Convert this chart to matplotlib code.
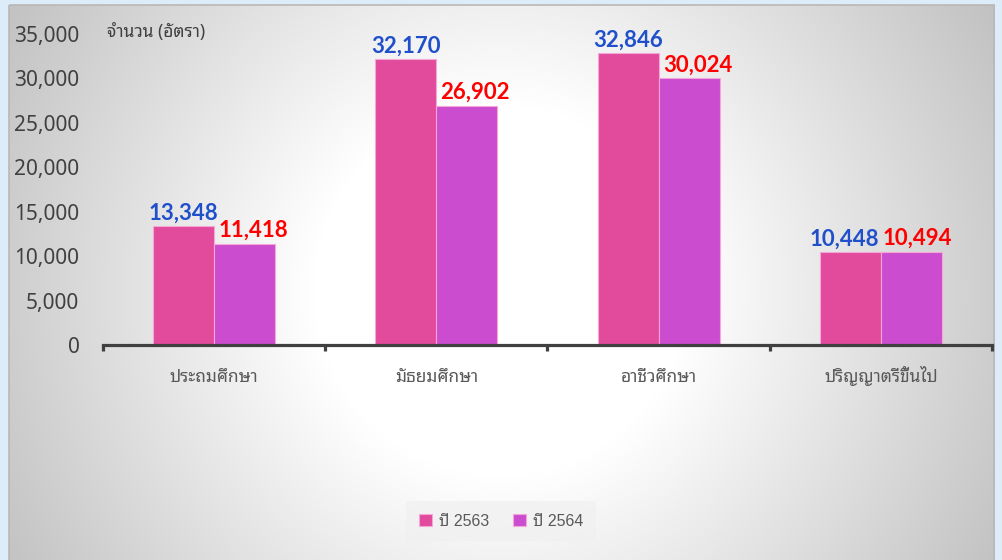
import numpy as np
import matplotlib
matplotlib.use("Agg")
import matplotlib.pyplot as plt
from matplotlib.patches import Rectangle
from matplotlib.ticker import FuncFormatter, FixedLocator

# data
categories = ['ประถมศึกษา', 'มัธยมศึกษา', 'อาชีวศึกษา', 'ปริญญาตรีขึ้นไป']
y2563 = [13348, 32170, 32846, 10448]
y2564 = [11418, 26902, 30024, 10494]
series_names = ['ปี 2563', 'ปี 2564']
yticks = [0, 5000, 10000, 15000, 20000, 25000, 30000, 35000]

plt.rcParams['font.family'] = ['Noto Sans', 'Noto Sans Thai Looped', 'DejaVu Sans']

W, H = 1003, 560
fig = plt.figure(figsize=(W / 100, H / 100), dpi=100)

# background: light blue frame + radial gray gradient panel
bg = fig.add_axes([0, 0, 1, 1])
bg.set_xlim(0, W)
bg.set_ylim(H, 0)
bg.axis('off')
yy, xx = np.mgrid[0:H, 0:W]
r = np.hypot(xx - 500, yy - 290)
g = np.clip(255 - 0.16 * np.clip(r - 186, 0, None), 185, 255) / 255.0
img = np.dstack([g, g, g])
blue = np.array([220, 236, 249]) / 255.0
mask = (xx < 9) | (xx > 994) | (yy < 5)
img[mask] = blue
bg.imshow(img, extent=[0, W, H, 0], aspect='auto', interpolation='bilinear')
bg.add_patch(Rectangle((9, 5), 985, 560, fill=False, edgecolor='#b8b8b8', lw=1.2))

# main chart
ax = fig.add_axes([103 / W, 0.384, 889 / W, 0.587])
ax.patch.set_alpha(0)
x = np.arange(len(categories))
w = 0.275
b1 = ax.bar(x - w / 2, y2563, w, color='#E24A9C', edgecolor='#F5A8D8', lw=0.8, label=series_names[0])
b2 = ax.bar(x + w / 2, y2564, w, color='#CB4CCF', edgecolor='#F5A8D8', lw=0.8, label=series_names[1])

# label nudges (points) so neighbouring labels don't collide, like Excel does
dx1 = [0, 0, 0, -4.5]
dx2 = [6, 6, 6, 4.5]
for bars, col, dxs in ((b1, '#1F4FCB', dx1), (b2, '#FF0000', dx2)):
    for rect, dx in zip(bars, dxs):
        v = rect.get_height()
        ax.annotate(f'{v:,.0f}', (rect.get_x() + rect.get_width() / 2, v),
                    xytext=(dx, 2), textcoords='offset points', ha='center', va='bottom',
                    fontsize=16, fontweight='bold', color=col,
                    family=['Lato', 'DejaVu Sans'])

ax.set_xlim(-0.5, 3.5)
ax.set_ylim(0, 37000)
for s in ('top', 'right', 'left'):
    ax.spines[s].set_visible(False)
ax.spines['bottom'].set_color('#404040')
ax.spines['bottom'].set_linewidth(2.3)

ax.set_yticks(yticks)
ax.yaxis.set_major_formatter(FuncFormatter(lambda v, p: f'{v:,.0f}'))
ax.tick_params(axis='y', length=0, pad=17, labelsize=15, labelcolor='#404040')

ax.xaxis.set_major_locator(FixedLocator(np.arange(-0.5, 4, 1)))
ax.xaxis.set_major_formatter(FuncFormatter(lambda v, p: ''))
ax.xaxis.set_minor_locator(FixedLocator(x))
ax.set_xticklabels(categories, minor=True)
ax.tick_params(axis='x', which='major', length=4.5, width=2.3, color='#404040', direction='out')
ax.tick_params(axis='x', which='minor', length=0, pad=27, labelsize=12.5, labelcolor='#595959')
for t in ax.get_xticklabels(minor=True):
    t.set_va('baseline')

fig.text(107 / W, 1 - 32 / H, 'จำนวน (อัตรา)', fontsize=12.5, color='#404040', va='center', ha='left')

leg = fig.legend(loc='center', bbox_to_anchor=(501 / W, 1 - 521 / H), ncol=2, frameon=True,
                 prop={'family': ['Liberation Sans', 'Noto Sans Thai Looped'], 'size': 11.5},
                 handlelength=0.8, handleheight=0.8, handletextpad=0.45,
                 columnspacing=1.5, borderpad=0.8, fancybox=False)
leg.get_frame().set_facecolor('#f0f0f0')
leg.get_frame().set_edgecolor('none')
leg.get_frame().set_alpha(0.7)
for t in leg.get_texts():
    t.set_color('#595959')

fig.savefig('out.png', dpi=100)
